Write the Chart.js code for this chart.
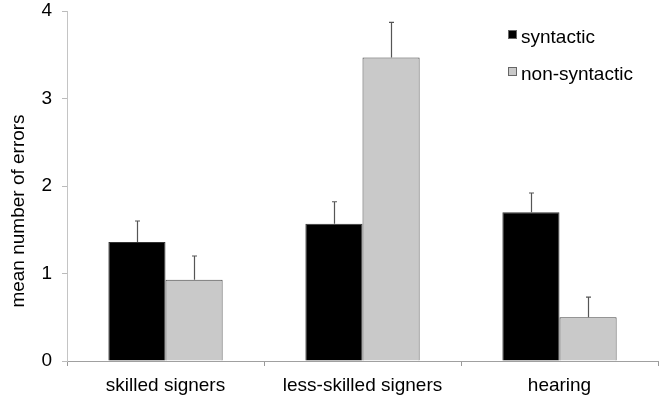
<!DOCTYPE html>
<html>
<head>
<meta charset="utf-8">
<script src="https://cdn.jsdelivr.net/npm/chart.js@4/dist/chart.umd.min.js"></script>
<style>
  html, body { margin: 0; padding: 0; background: #fff; }
  #wrap { width: 662px; height: 402px; position: relative; }
</style>
</head>
<body>
<div id="wrap"><canvas id="c" width="662" height="402"></canvas></div>
<script>
const categories = ['skilled signers', 'less-skilled signers', 'hearing'];
const seriesNames = ['syntactic', 'non-syntactic'];
const syntactic = [1.36, 1.57, 1.70];
const nonSyntactic = [0.93, 3.47, 0.50];
const syntacticErr = [0.24, 0.25, 0.22];
const nonSyntacticErr = [0.27, 0.40, 0.23];
const yTicks = [0, 1, 2, 3, 4];
const yTitle = 'mean number of errors';

const FONT = '"Liberation Sans", Arial, Helvetica, sans-serif';
const errs = [syntacticErr, nonSyntacticErr];

const errorBarPlugin = {
  id: 'errorBars',
  afterDatasetsDraw(chart) {
    const ctx = chart.ctx;
    const y = chart.scales.y;
    ctx.save();
    ctx.strokeStyle = '#555';
    ctx.lineWidth = 1.2;
    chart.data.datasets.forEach((ds, di) => {
      const meta = chart.getDatasetMeta(di);
      meta.data.forEach((bar, i) => {
        const v = ds.data[i];
        const top = y.getPixelForValue(v + errs[di][i]);
        const base = y.getPixelForValue(v);
        const x = Math.round(bar.x) + 0.5;
        ctx.beginPath();
        ctx.moveTo(x, base);
        ctx.lineTo(x, top);
        ctx.moveTo(x - 2.5, top);
        ctx.lineTo(x + 2.5, top);
        ctx.stroke();
      });
    });
    ctx.restore();
  }
};

const legendTitlePlugin = {
  id: 'legendTitle',
  afterDraw(chart) {
    const ctx = chart.ctx;
    ctx.save();
    ctx.fillStyle = '#000';
    ctx.font = '19px ' + FONT;
    ctx.textAlign = 'center';
    ctx.textBaseline = 'middle';
    ctx.translate(19, 211);
    ctx.rotate(-Math.PI / 2);
    ctx.fillText(yTitle, 0, 0);
    ctx.restore();

    ctx.save();
    ctx.font = '19px ' + FONT;
    ctx.textAlign = 'left';
    ctx.textBaseline = 'alphabetic';
    const baselines = [43, 80];
    chart.data.datasets.forEach((ds, di) => {
      const b = baselines[di];
      ctx.fillStyle = ds.backgroundColor;
      ctx.fillRect(508, b - 13, 9, 9);
      ctx.strokeStyle = '#666';
      ctx.lineWidth = 1;
      ctx.strokeRect(508.5, b - 12.5, 8, 8);
      ctx.fillStyle = '#000';
      ctx.fillText(ds.label, 521, b);
    });
    ctx.restore();
  }
};

new Chart(document.getElementById('c'), {
  type: 'bar',
  data: {
    labels: categories,
    datasets: [
      { label: seriesNames[0], data: syntactic, backgroundColor: '#000000', borderColor: '#333', borderWidth: 1 },
      { label: seriesNames[1], data: nonSyntactic, backgroundColor: '#c9c9c9', borderColor: '#444', borderWidth: 1 }
    ]
  },
  options: {
    responsive: false,
    animation: false,
    devicePixelRatio: 1,
    categoryPercentage: 0.58,
    barPercentage: 1.0,
    layout: { padding: { top: 11, right: 4, left: 0, bottom: 0 } },
    plugins: { legend: { display: false }, tooltip: { enabled: false } },
    scales: {
      x: {
        grid: { display: true, drawOnChartArea: false, drawTicks: true, tickLength: 5, color: '#999', offset: true },
        border: { display: true, color: '#a0a0a0', width: 1 },
        ticks: { color: '#000', font: { family: FONT, size: 19 }, padding: 8, maxRotation: 0 },
        afterFit(s) { s.height = 41; s.paddingLeft = 0; s.paddingRight = 0; }
      },
      y: {
        min: 0, max: 4,
        afterBuildTicks(s) { s.ticks = yTicks.map(v => ({ value: v })); },
        grid: { display: true, drawOnChartArea: false, drawTicks: true, tickLength: 5, color: '#bbb' },
        border: { display: true, color: '#c4c4c4', width: 1 },
        ticks: { color: '#000', font: { family: FONT, size: 19 }, padding: 10 },
        afterFit(s) { s.width = 67; s.paddingTop = 0; s.paddingBottom = 0; }
      }
    }
  },
  plugins: [errorBarPlugin, legendTitlePlugin]
});
</script>
</body>
</html>
